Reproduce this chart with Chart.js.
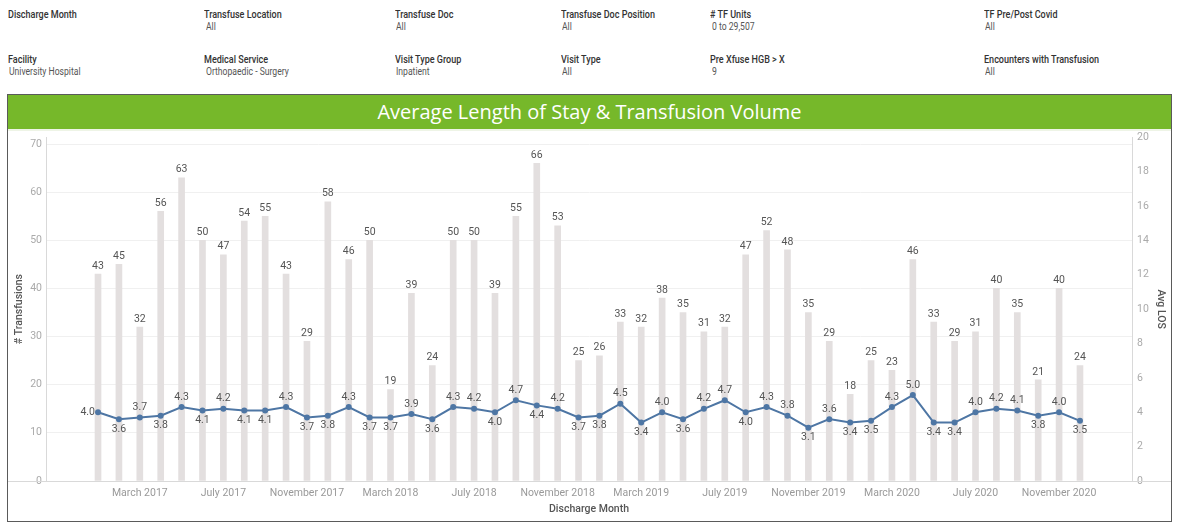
<!DOCTYPE html>
<html>
<head>
<meta charset="utf-8">
<script src="https://cdn.jsdelivr.net/npm/chart.js@4"></script>
<style>
  html, body { margin: 0; padding: 0; background: #fff; width: 1179px; height: 529px; overflow: hidden; }
  .f { position: absolute; font-family: Roboto, "Noto Sans", sans-serif; white-space: nowrap; transform-origin: left center; transform: scaleX(0.86); }
  .lbl { font-size: 10.5px; font-weight: 500; color: #333; }
  .val { font-size: 10px; color: #555; }
  #frame { position: absolute; left: 7px; top: 94px; width: 1163px; height: 426px; border: 1px solid #5a5a5a; }
  #head { position: absolute; left: 8px; top: 95px; width: 1163px; height: 34px; background: #76b82a; border-bottom: 2px solid #eef4e6; }
  #title { position: absolute; left: 8px; top: 95px; width: 1163px; height: 34px; line-height: 34px; text-align: center; color: #fff; font-family: "Open Sans", sans-serif; font-size: 20px; }
  #wrap { position: absolute; left: 8px; top: 126px; width: 1163px; height: 394px; }
</style>
</head>
<body>
<div class="f lbl" style="left:8px;top:8px">Discharge Month</div>

<div class="f lbl" style="left:204px;top:8px">Transfuse Location</div>
<div class="f val" style="left:206px;top:21px">All</div>
<div class="f lbl" style="left:395px;top:8px">Transfuse Doc</div>
<div class="f val" style="left:396px;top:21px">All</div>
<div class="f lbl" style="left:561px;top:8px">Transfuse Doc Position</div>
<div class="f val" style="left:562px;top:21px">All</div>
<div class="f lbl" style="left:710px;top:8px"># TF Units</div>
<div class="f val" style="left:712px;top:21px">0 to 29,507</div>
<div class="f lbl" style="left:984px;top:8px">TF Pre/Post Covid</div>
<div class="f val" style="left:985px;top:21px">All</div>

<div class="f lbl" style="left:8px;top:53px">Facility</div>
<div class="f val" style="left:9px;top:66px">University Hospital</div>
<div class="f lbl" style="left:204px;top:53px">Medical Service</div>
<div class="f val" style="left:206px;top:66px">Orthopaedic - Surgery</div>
<div class="f lbl" style="left:395px;top:53px">Visit Type Group</div>
<div class="f val" style="left:396px;top:66px">Inpatient</div>
<div class="f lbl" style="left:561px;top:53px">Visit Type</div>
<div class="f val" style="left:562px;top:66px">All</div>
<div class="f lbl" style="left:710px;top:53px">Pre Xfuse HGB &gt; X</div>
<div class="f val" style="left:712px;top:66px">9</div>
<div class="f lbl" style="left:984px;top:53px">Encounters with Transfusion</div>
<div class="f val" style="left:985px;top:66px">All</div>

<div id="frame"></div>
<div id="head"></div>
<div id="title">Average Length of Stay &amp; Transfusion Volume</div>
<div id="wrap"><canvas id="c" width="1163" height="394"></canvas></div>

<script>
// ---- data ----
const months = [
  "January 2017","February 2017","March 2017","April 2017","May 2017","June 2017",
  "July 2017","August 2017","September 2017","October 2017","November 2017","December 2017",
  "January 2018","February 2018","March 2018","April 2018","May 2018","June 2018",
  "July 2018","August 2018","September 2018","October 2018","November 2018","December 2018",
  "January 2019","February 2019","March 2019","April 2019","May 2019","June 2019",
  "July 2019","August 2019","September 2019","October 2019","November 2019","December 2019",
  "January 2020","February 2020","March 2020","April 2020","May 2020","June 2020",
  "July 2020","August 2020","September 2020","October 2020","November 2020","December 2020"
];
const transfusions = [
  43,45,32,56,63,50,47,54,55,43,29,58,
  46,50,19,39,24,50,50,39,55,66,53,25,
  26,33,32,38,35,31,32,47,52,48,35,29,
  18,25,23,46,33,29,31,40,35,21,40,24
];
const avgLOS = [
  4.0,3.6,3.7,3.8,4.3,4.1,4.2,4.1,4.1,4.3,3.7,3.8,
  4.3,3.7,3.7,3.9,3.6,4.3,4.2,4.0,4.7,4.4,4.2,3.7,
  3.8,4.5,3.4,4.0,3.6,4.2,4.7,4.0,4.3,3.8,3.1,3.6,
  3.4,3.5,4.3,5.0,3.4,3.4,4.0,4.2,4.1,3.8,4.0,3.5
];
const xTickMonths = ["March 2017","July 2017","November 2017","March 2018","July 2018","November 2018",
  "March 2019","July 2019","November 2019","March 2020","July 2020","November 2020"];
const leftTicks = [0,10,20,30,40,50,60,70];
const rightTicks = [0,2,4,6,8,10,12,14,16,18,20];

Chart.defaults.font.family = 'Roboto, "Noto Sans", sans-serif';
Chart.defaults.color = '#999';

const labelPlugin = {
  id: 'valueLabels',
  afterDatasetsDraw(chart) {
    const ctx = chart.ctx;
    ctx.save();
    ctx.font = '10.5px Roboto, "Noto Sans", sans-serif';
    ctx.fillStyle = '#555';
    ctx.textBaseline = 'middle';
    // bar labels
    const barMeta = chart.getDatasetMeta(0);
    ctx.textAlign = 'center';
    barMeta.data.forEach((el, i) => {
      ctx.fillText(String(transfusions[i]), el.x, el.y - 8);
    });
    // line labels
    const lineMeta = chart.getDatasetMeta(1);
    lineMeta.data.forEach((el, i) => {
      const v = avgLOS[i];
      const txt = v.toFixed(1);
      if (i === 0) {
        ctx.textAlign = 'right';
        ctx.fillText(txt, el.x - 3, el.y);
        return;
      }
      let above;
      if (i === avgLOS.length - 1) above = v > avgLOS[i - 1];
      else above = v >= (avgLOS[i - 1] + avgLOS[i + 1]) / 2;
      ctx.textAlign = 'center';
      ctx.fillText(txt, el.x, above ? el.y - 10 : el.y + 10);
    });
    ctx.restore();
  },
  beforeDatasetsDraw(chart) {
    const ctx = chart.ctx;
    const b = chart.chartArea.bottom;
    ctx.save();
    ctx.strokeStyle = '#d9d9d9';
    ctx.lineWidth = 1;
    ctx.beginPath();
    ctx.moveTo(0, Math.round(b) + 0.5);
    ctx.lineTo(chart.width, Math.round(b) + 0.5);
    ctx.stroke();
    ctx.restore();
  }
};

new Chart(document.getElementById('c'), {
  data: {
    datasets: [
      {
        type: 'bar',
        label: '# Transfusions',
        data: transfusions.map((v, i) => ({ x: i, y: v })),
        backgroundColor: '#e3dfdf',
        barThickness: 6,
        yAxisID: 'yL',
        order: 2
      },
      {
        type: 'line',
        label: 'Avg LOS',
        data: avgLOS.map((v, i) => ({ x: i, y: v })),
        borderColor: '#4e76a4',
        backgroundColor: '#4e76a4',
        borderWidth: 2,
        pointRadius: 2,
        pointHoverRadius: 2,
        tension: 0,
        yAxisID: 'yR',
        order: 1
      }
    ]
  },
  options: {
    responsive: false,
    animation: false,
    events: [],
    layout: { padding: { top: 7.6, left: 0, right: 0, bottom: 0 } },
    plugins: { legend: { display: false }, tooltip: { enabled: false } },
    scales: {
      x: {
        type: 'linear',
        min: -2.49,
        max: 49.49,
        offset: false,
        afterBuildTicks(scale) {
          scale.ticks = xTickMonths.map(m => ({ value: months.indexOf(m) }));
        },
        afterFit(scale) { scale.height = 39; },
        ticks: {
          autoSkip: false,
          maxRotation: 0,
          padding: 6,
          color: '#999',
          font: { size: 10.5 },
          callback: (v) => months[v]
        },
        grid: { display: false, drawTicks: false },
        border: { display: true, color: '#d9d9d9' },
        title: {
          display: true,
          text: 'Discharge Month',
          color: '#555',
          font: { size: 10.5, weight: '500' },
          padding: { top: 0, bottom: 4 }
        }
      },
      yL: {
        type: 'linear',
        position: 'left',
        min: 0,
        max: 71.4,
        afterBuildTicks(scale) { scale.ticks = leftTicks.map(v => ({ value: v })); },
        afterFit(scale) { scale.width = 38; },
        ticks: { padding: 4, color: '#aaa', font: { size: 10.5 } },
        grid: { color: (c) => c.tick && c.tick.value === 0 ? 'rgba(0,0,0,0)' : '#f0f0f0', drawTicks: false },
        border: { display: true, color: '#d9d9d9' },
        title: {
          display: true,
          text: '# Transfusions',
          color: '#555',
          font: { size: 10.5, weight: '500' },
          padding: { top: 5, bottom: 0 }
        }
      },
      yR: {
        type: 'linear',
        position: 'right',
        min: 0,
        max: 20,
        afterBuildTicks(scale) { scale.ticks = rightTicks.map(v => ({ value: v })); },
        afterFit(scale) { scale.width = 39; },
        ticks: { padding: 5, color: '#aaa', font: { size: 10.5 } },
        grid: { display: false, drawOnChartArea: false, drawTicks: false },
        border: { display: true, color: '#d9d9d9' },
        title: {
          display: true,
          text: 'Avg LOS',
          color: '#555',
          font: { size: 10.5, weight: '500' },
          padding: { top: 4.5, bottom: 0 }
        }
      }
    }
  },
  plugins: [labelPlugin]
});
</script>
</body>
</html>
